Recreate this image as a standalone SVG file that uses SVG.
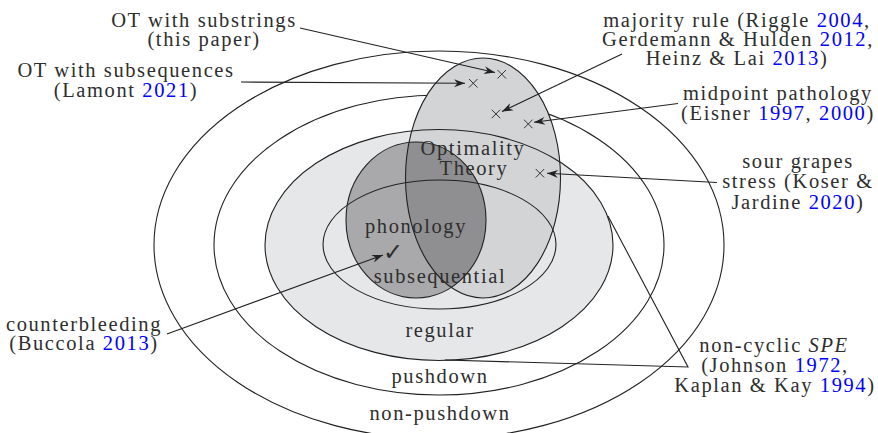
<svg xmlns="http://www.w3.org/2000/svg" width="878" height="433" viewBox="0 0 878 433">
<style>
text{font-family:"Liberation Serif","Times New Roman",serif;font-size:20.5px;letter-spacing:1.6px;fill:#2e2e2e;text-anchor:middle}
.c{fill:#0000ff}
.o{fill:none;stroke:#222;stroke-width:1.1}
.ln{fill:none;stroke:#222;stroke-width:1.1}
.x{stroke:#333;stroke-width:1}
</style>
<defs>
<marker id="ah" markerUnits="userSpaceOnUse" markerWidth="14" markerHeight="10" viewBox="-12 -5 13 10" refX="0" refY="0" orient="auto">
<path d="M0,0 L-11,-4 L-7.5,0 L-11,4 Z" fill="#222"/>
</marker>
<clipPath id="otclip"><ellipse cx="483" cy="178" rx="77.5" ry="120"/></clipPath>
</defs>

<g id="non-pushdown">
<ellipse class="o" cx="439" cy="245" rx="285" ry="194"/>
<text x="440" y="420">non-pushdown</text>
</g>
<g id="pushdown">
<ellipse class="o" cx="439" cy="245" rx="225" ry="150"/>
<text x="440" y="383">pushdown</text>
</g>
<g id="regular">
<ellipse cx="439" cy="245" rx="174" ry="115.5" fill="#e6e7e9"/>
<text x="440" y="337">regular</text>
</g>
<g id="optimality-theory">
<ellipse cx="483" cy="178" rx="77.5" ry="120" fill="#d3d4d6"/>
</g>
<g id="phonology">
<ellipse cx="416" cy="220" rx="70" ry="78" fill="#a9a9ab"/>
<ellipse cx="416" cy="220" rx="70" ry="78" fill="#8f8f91" clip-path="url(#otclip)"/>
</g>
<g id="outlines">
<ellipse class="o" cx="439" cy="245" rx="174" ry="115.5"/>
<ellipse class="o" cx="483" cy="178" rx="77.5" ry="120"/>
<ellipse class="o" cx="416" cy="220" rx="70" ry="78"/>
</g>
<g id="subsequential">
<ellipse class="o" cx="439.5" cy="244.5" rx="116.5" ry="64.5"/>
<text x="440" y="283">subsequential</text>
</g>
<g id="ot-label">
<text><tspan x="473" y="155">Optimality</tspan><tspan x="474" y="175">Theory</tspan></text>
</g>
<g id="phonology-label">
<text x="416" y="233">phonology</text>
<text x="393" y="260" style="font-family:'DejaVu Sans',sans-serif;font-size:24px;letter-spacing:0">✓</text>
</g>

<g id="marks">
<path class="x" d="M497.5,70 l8.5,8.5 M506,70 l-8.5,8.5"/>
<path class="x" d="M469,79 l8.5,8.5 M477.5,79 l-8.5,8.5"/>
<path class="x" d="M491.7,109.7 l8.5,8.5 M500.2,109.7 l-8.5,8.5"/>
<path class="x" d="M524,119.7 l8.5,8.5 M532.5,119.7 l-8.5,8.5"/>
<path class="x" d="M535.7,169 l8.5,8.5 M544.2,169 l-8.5,8.5"/>
</g>

<g id="connectors">
<path class="ln" d="M300,28 L495,72.5" marker-end="url(#ah)"/>
<path class="ln" d="M241,82 L465,83.3" marker-end="url(#ah)"/>
<path class="ln" d="M622,54 L502,111.5" marker-end="url(#ah)"/>
<path class="ln" d="M678,103.5 L534,122.3" marker-end="url(#ah)"/>
<path class="ln" d="M717,182.5 L547,173.3" marker-end="url(#ah)"/>
<path class="ln" d="M167,334 L383,255" marker-end="url(#ah)"/>
<path class="ln" d="M445,360 L688,367 L608,216"/>
</g>

<g id="label-substrings">
<text><tspan x="204" y="27">OT with substrings</tspan><tspan x="204" y="46">(this paper)</tspan></text>
</g>
<g id="label-subsequences">
<text><tspan x="126" y="77">OT with subsequences</tspan><tspan x="126" y="97">(Lamont <tspan class="c">2021</tspan>)</tspan></text>
</g>
<g id="label-majority">
<text><tspan x="737" y="27">majority rule (Riggle <tspan class="c">2004</tspan>,</tspan><tspan x="738" y="46">Gerdemann &amp; Hulden <tspan class="c">2012</tspan>,</tspan><tspan x="737" y="65">Heinz &amp; Lai <tspan class="c">2013</tspan>)</tspan></text>
</g>
<g id="label-midpoint">
<text><tspan x="778" y="100">midpoint pathology</tspan><tspan x="778" y="120">(Eisner <tspan class="c">1997</tspan>, <tspan class="c">2000</tspan>)</tspan></text>
</g>
<g id="label-sourgrapes">
<text><tspan x="798" y="168">sour grapes</tspan><tspan x="798" y="188">stress (Koser &amp;</tspan><tspan x="798" y="209">Jardine <tspan class="c">2020</tspan>)</tspan></text>
</g>
<g id="label-counterbleeding">
<text><tspan x="84" y="331">counterbleeding</tspan><tspan x="84" y="350">(Buccola <tspan class="c">2013</tspan>)</tspan></text>
</g>
<g id="label-spe">
<text><tspan x="774" y="352">non-cyclic <tspan font-style="italic">SPE</tspan></tspan><tspan x="775" y="372">(Johnson <tspan class="c">1972</tspan>,</tspan><tspan x="775" y="392">Kaplan &amp; Kay <tspan class="c">1994</tspan>)</tspan></text>
</g>
</svg>
